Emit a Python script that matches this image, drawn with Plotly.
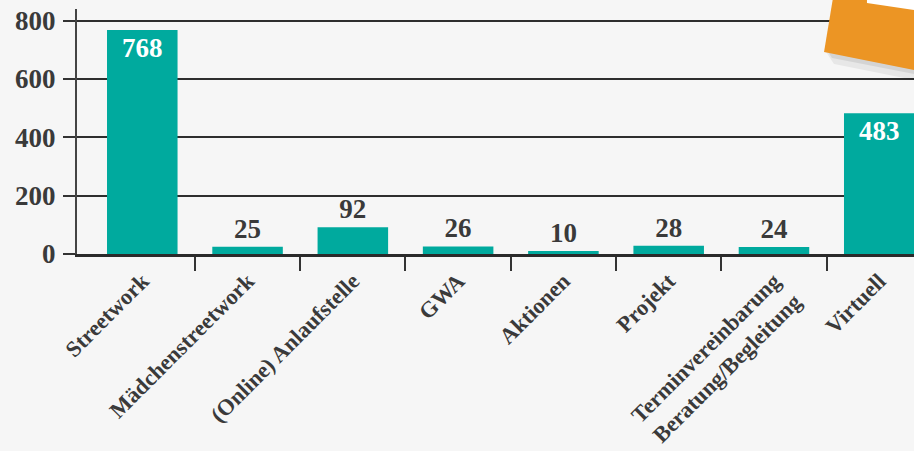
import plotly.graph_objects as go

categories = ["Streetwork", "Mädchenstreetwork", "(Online) Anlaufstelle", "GWA",
              "Aktionen", "Projekt", "Terminvereinbarung<br>Beratung/Begleitung", "Virtuell"]
values = [768, 25, 92, 26, 10, 28, 24, 483]
y_ticks = [0, 200, 400, 600, 800]

W, H = 914, 451
ML, MR, MT, MB = 77, 0, 9, 197
FONT = "Liberation Serif"
TEXT = "#3a3a3a"
TEAL = "#00aa9e"
BG = "#f6f6f6"

fig = go.Figure()
fig.add_trace(go.Bar(
    x=list(range(len(categories))), y=values,
    marker=dict(color=TEAL, line=dict(width=0)),
    width=0.67,
    text=[str(v) for v in values],
    textposition="auto",
    insidetextanchor="end",
    textangle=0,
    cliponaxis=False,
    insidetextfont=dict(family=FONT, size=27, color="white", weight="bold"),
    outsidetextfont=dict(family=FONT, size=27, color=TEXT, weight="bold"),
    hoverinfo="skip",
))

def px(xp):
    return (xp - ML) / (W - ML - MR)

def py(yp):
    return (H - MB - yp) / (H - MT - MB)

def path(points):
    return "M " + " L ".join(f"{px(a):.4f},{py(b):.4f}" for a, b in points) + " Z"

shapes = [
    # soft shadow of the orange note
    dict(type="path", xref="paper", yref="paper", layer="above",
         path=path([(826, 52), (914, 68), (914, 80), (834, 64)]),
         fillcolor="rgba(0,0,0,0.06)", line=dict(width=0)),
    dict(type="path", xref="paper", yref="paper", layer="above",
         path=path([(828, 52), (914, 68), (914, 74), (832, 58)]),
         fillcolor="rgba(0,0,0,0.08)", line=dict(width=0)),
    dict(type="path", xref="paper", yref="paper", layer="above",
         path=path([(833, -2), (914, -2), (914, 70), (824, 52)]),
         fillcolor="#ec9524", line=dict(width=0)),
    dict(type="path", xref="paper", yref="paper", layer="above",
         path=path([(867, -2), (914, -2), (914, 10), (867, 3)]),
         fillcolor="white", line=dict(width=0)),
]

fig.update_layout(
    width=W, height=H,
    margin=dict(l=ML, r=MR, t=MT, b=MB, pad=0, autoexpand=False),
    paper_bgcolor=BG,
    plot_bgcolor=BG,
    showlegend=False,
    shapes=shapes,
    xaxis=dict(
        range=[-0.62, 7.33],
        tickmode="array",
        tickvals=list(range(len(categories))),
        ticktext=categories,
        tickangle=-45,
        tickfont=dict(family=FONT, size=22.5, color=TEXT, weight="bold"),
        showgrid=False, zeroline=False,
        showline=True, linecolor="#2a2a2a", linewidth=3,
        ticks="", fixedrange=True, automargin=False,
        ticklabelstandoff=2,
    ),
    yaxis=dict(
        range=[0, 840],
        tickvals=y_ticks,
        ticktext=[str(v) for v in y_ticks],
        tickfont=dict(family=FONT, size=27, color=TEXT, weight="bold"),
        showgrid=True, gridcolor="#2e2e2e", gridwidth=2,
        zeroline=False,
        showline=True, linecolor="#444444", linewidth=2,
        ticks="outside", ticklen=12, tickcolor="#333333", tickwidth=2,
        ticklabelstandoff=2,
        fixedrange=True, automargin=False,
    ),
)

# category boundary ticks on the x axis
fig.update_xaxes(minor=dict(tickvals=[i + 0.5 for i in range(len(categories) - 1)],
                            ticks="outside", ticklen=14, tickcolor="#333333", tickwidth=2))

fig.write_html("out.html")
